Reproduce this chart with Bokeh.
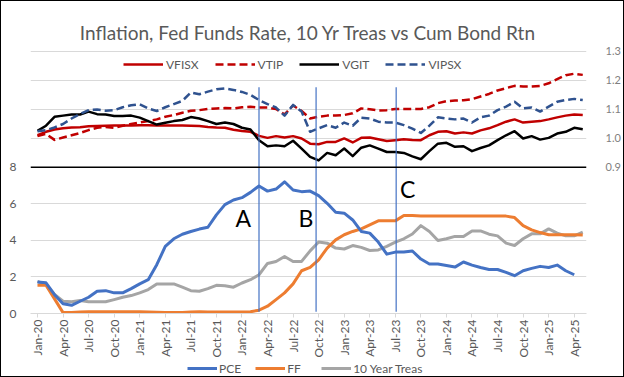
import math
from bokeh.plotting import figure
from bokeh.layouts import column
from bokeh.models import (Range1d, LinearAxis, FixedTicker, Grid, Span, Legend,
                          LegendItem, ColumnDataSource)
from bokeh.core.properties import value
from bokeh.embed import file_html
from bokeh.resources import INLINE

# ---------------- data ----------------
tick_months = list(range(0, 64, 3))
tick_labels = ["Jan-20", "Apr-20", "Jul-20", "Oct-20", "Jan-21", "Apr-21", "Jul-21", "Oct-21",
               "Jan-22", "Apr-22", "Jul-22", "Oct-22", "Jan-23", "Apr-23", "Jul-23", "Oct-23",
               "Jan-24", "Apr-24", "Jul-24", "Oct-24", "Jan-25", "Apr-25"]

# month index 0 = Jan-20
pce = [1.73, 1.68, 1.03, 0.53, 0.45, 0.67, 0.89, 1.22, 1.25, 1.13,
       1.13, 1.36, 1.62, 1.85, 2.67, 3.67, 4.09, 4.34, 4.49, 4.62,
       4.72, 5.40, 5.96, 6.21, 6.34, 6.63, 6.98, 6.70, 6.81, 7.21,
       6.76, 6.67, 6.70, 6.45, 6.03, 5.54, 5.49, 5.12, 4.49, 4.40,
       3.91, 3.25, 3.36, 3.36, 3.42, 2.98, 2.71, 2.71, 2.63, 2.54,
       2.82, 2.65, 2.52, 2.41, 2.41, 2.25, 2.07, 2.34, 2.47, 2.58,
       2.52, 2.65, 2.34, 2.12]
ff = [1.55, 1.55, 0.80, 0.05, 0.05, 0.08, 0.09, 0.09, 0.09, 0.09,
      0.09, 0.09, 0.09, 0.08, 0.07, 0.06, 0.06, 0.06, 0.08, 0.09,
      0.08, 0.08, 0.08, 0.08, 0.08, 0.10, 0.18, 0.40, 0.76, 1.13,
      1.62, 2.34, 2.52, 2.94, 3.58, 4.03, 4.31, 4.49, 4.63, 4.85,
      5.07, 5.07, 5.07, 5.36, 5.36, 5.33, 5.33, 5.33, 5.33, 5.33,
      5.33, 5.33, 5.33, 5.33, 5.33, 5.33, 5.25, 4.81, 4.58, 4.43,
      4.31, 4.31, 4.31, 4.31, 4.29]
treas10 = [1.76, 1.58, 1.04, 0.67, 0.64, 0.71, 0.64, 0.64, 0.64, 0.76,
           0.89, 0.98, 1.13, 1.31, 1.62, 1.62, 1.62, 1.44, 1.25, 1.22,
           1.36, 1.54, 1.52, 1.44, 1.67, 1.85, 2.12, 2.74, 2.85, 3.12,
           2.85, 2.85, 3.43, 3.91, 3.85, 3.58, 3.53, 3.72, 3.62, 3.45,
           3.48, 3.67, 3.91, 4.09, 4.35, 4.81, 4.49, 4.00, 4.09, 4.22,
           4.22, 4.52, 4.52, 4.34, 4.25, 3.85, 3.72, 4.09, 4.36, 4.36,
           4.63, 4.40, 4.25, 4.25, 4.45]

vfisx = [1.010, 1.022, 1.030, 1.034, 1.037, 1.038, 1.041, 1.042, 1.043, 1.044,
         1.044, 1.044, 1.045, 1.045, 1.044, 1.044, 1.044, 1.044, 1.043, 1.042,
         1.039, 1.037, 1.036, 1.029, 1.025, 1.022, 1.008, 1.001, 1.007, 1.002,
         1.007, 0.999, 0.981, 0.979, 0.987, 0.987, 0.999, 0.985, 1.001, 1.002,
         0.996, 0.990, 0.993, 0.996, 0.994, 0.993, 1.010, 1.022, 1.024, 1.016,
         1.020, 1.016, 1.027, 1.034, 1.045, 1.057, 1.065, 1.054, 1.057, 1.059,
         1.065, 1.072, 1.078, 1.082, 1.080]
vtip = [1.007, 1.015, 0.994, 1.002, 1.010, 1.018, 1.028, 1.036, 1.039, 1.036,
        1.043, 1.049, 1.054, 1.059, 1.065, 1.074, 1.080, 1.088, 1.095, 1.097,
        1.101, 1.103, 1.104, 1.103, 1.107, 1.109, 1.106, 1.106, 1.101, 1.082,
        1.113, 1.094, 1.068, 1.074, 1.078, 1.078, 1.080, 1.086, 1.103, 1.100,
        1.096, 1.097, 1.101, 1.101, 1.101, 1.101, 1.107, 1.121, 1.128, 1.130,
        1.131, 1.135, 1.144, 1.153, 1.165, 1.173, 1.181, 1.179, 1.179, 1.181,
        1.190, 1.204, 1.218, 1.223, 1.219]
vgit = [1.025, 1.043, 1.074, 1.078, 1.082, 1.082, 1.092, 1.083, 1.082, 1.077,
        1.077, 1.078, 1.071, 1.059, 1.047, 1.053, 1.059, 1.063, 1.073, 1.068,
        1.059, 1.049, 1.054, 1.049, 1.036, 1.030, 0.993, 0.972, 0.975, 0.972,
        0.991, 0.964, 0.935, 0.923, 0.949, 0.941, 0.964, 0.938, 0.967, 0.975,
        0.964, 0.952, 0.952, 0.949, 0.937, 0.927, 0.955, 0.981, 0.984, 0.970,
        0.972, 0.955, 0.966, 0.975, 0.993, 1.010, 1.024, 0.999, 1.007, 0.995,
        1.001, 1.016, 1.022, 1.036, 1.031]
vipsx = [1.024, 1.028, 1.037, 1.049, 1.068, 1.084, 1.097, 1.099, 1.095, 1.097,
         1.107, 1.114, 1.117, 1.103, 1.094, 1.107, 1.118, 1.129, 1.158, 1.152,
         1.161, 1.169, 1.172, 1.167, 1.160, 1.150, 1.132, 1.118, 1.106, 1.078,
         1.115, 1.092, 1.022, 1.034, 1.045, 1.036, 1.054, 1.043, 1.071, 1.068,
         1.057, 1.054, 1.054, 1.045, 1.033, 1.018, 1.043, 1.072, 1.068, 1.065,
         1.068, 1.054, 1.072, 1.078, 1.097, 1.109, 1.126, 1.103, 1.106, 1.092,
         1.109, 1.126, 1.132, 1.136, 1.132]

left_ticks = [0, 2, 4, 6, 8]
right_ticks = [0.9, 1.0, 1.1, 1.2, 1.3]
right_tick_labels = ["0.9", "1.0", "1.1", "1.2", "1.3"]

# event markers (month index) and their letters
event_x = [26.0, 32.7, 42.1]
event_bottom = [0.1, 0.1, 0.1]
event_top = [12.38, 12.38, 12.38]
letter_x = [24.15, 31.52, 43.45]
letter_y = [5.2, 5.2, 6.8]
letters = ["A", "B", "C"]

FONT = "Lato"
GREY_TXT = "#595959"

# ---------------- main figure ----------------
p = figure(width=622, height=359, output_backend="svg", toolbar_location=None,
           x_range=Range1d(-0.82, 64.44), y_range=Range1d(0, 14.395),
           min_border_left=29, min_border_right=35, min_border_top=49, min_border_bottom=45)
p.extra_y_ranges = {"right": Range1d(0.3931, 1.3034)}
p.outline_line_color = None
p.background_fill_color = "white"
p.border_fill_color = "white"

p.title.text = "Inflation, Fed Funds Rate, 10 Yr Treas vs Cum Bond Rtn"
p.title.align = "center"
p.title.text_font = FONT
p.title.text_font_size = "19px"
p.title.text_font_style = "normal"
p.title.text_color = GREY_TXT
p.title.standoff = 14

# grids
p.xgrid.visible = False
p.ygrid.ticker = FixedTicker(ticks=[2, 4, 6])
p.ygrid.grid_line_color = "#D9D9D9"
p.add_layout(Grid(dimension=1, y_range_name="right",
                  ticker=FixedTicker(ticks=[1.0, 1.1, 1.2, 1.3]),
                  grid_line_color="#D9D9D9"))
p.add_layout(Span(location=8, dimension="width", line_color="black", line_width=1.5))

# axes
xa = p.xaxis[0]
xa.ticker = FixedTicker(ticks=tick_months)
xa.major_label_overrides = {m: lab for m, lab in zip(tick_months, tick_labels)}
xa.major_label_orientation = math.pi / 2
xa.major_label_text_font = FONT
xa.major_label_text_font_size = "12px"
xa.major_label_text_color = GREY_TXT
xa.axis_line_color = "#D9D9D9"
xa.major_tick_line_color = "#D9D9D9"
xa.major_tick_in = 0
xa.major_tick_out = 4
xa.minor_tick_line_color = None
xa.major_label_standoff = 2

ya = p.yaxis[0]
ya.ticker = FixedTicker(ticks=left_ticks)
ya.axis_line_color = None
ya.major_tick_line_color = None
ya.minor_tick_line_color = None
ya.major_label_text_font = FONT
ya.major_label_text_font_size = "12px"
ya.major_label_text_color = GREY_TXT
ya.major_label_standoff = 8

ra = LinearAxis(y_range_name="right", ticker=FixedTicker(ticks=right_ticks))
ra.major_label_overrides = {t: s for t, s in zip(right_ticks, right_tick_labels)}
ra.axis_line_color = None
ra.major_tick_line_color = None
ra.minor_tick_line_color = None
ra.major_label_text_font = FONT
ra.major_label_text_font_size = "11px"
ra.major_label_text_color = "#7F7F7F"
ra.major_label_standoff = 13
p.add_layout(ra, "right")

# ---------------- lines ----------------
top_src = ColumnDataSource(dict(m=list(range(len(vfisx))), vfisx=vfisx, vtip=vtip,
                                vgit=vgit, vipsx=vipsx))
pce_src = ColumnDataSource(dict(m=list(range(len(pce))), pce=pce))
low_src = ColumnDataSource(dict(m=list(range(len(ff))), ff=ff, treas10=treas10))

STYLE = {
    "VFISX": dict(line_color="#C00000", line_width=2.5),
    "VTIP": dict(line_color="#C00000", line_width=2.5, line_dash="8 4"),
    "VGIT": dict(line_color="#000000", line_width=2.5),
    "VIPSX": dict(line_color="#2F528F", line_width=2.5, line_dash="8 4"),
    "PCE": dict(line_color="#4472C4", line_width=3),
    "FF": dict(line_color="#ED7D31", line_width=3),
    "10 Year Treas": dict(line_color="#A5A5A5", line_width=3),
}

kw_top = dict(source=top_src, y_range_name="right", line_join="round")
r_vfisx = p.line("m", "vfisx", **STYLE["VFISX"], **kw_top)
r_vtip = p.line("m", "vtip", **STYLE["VTIP"], **kw_top)
r_vgit = p.line("m", "vgit", **STYLE["VGIT"], **kw_top)
r_vipsx = p.line("m", "vipsx", **STYLE["VIPSX"], **kw_top)

p.line("m", "treas10", source=low_src, line_join="round", **STYLE["10 Year Treas"])
p.line("m", "ff", source=low_src, line_join="round", **STYLE["FF"])
p.line("m", "pce", source=pce_src, line_join="round", **STYLE["PCE"])

# event markers
p.segment(x0=event_x, y0=event_bottom, x1=event_x, y1=event_top,
          line_color="#4472C4", line_width=1.2)
p.text(x=letter_x, y=letter_y, text=letters, text_font=value(FONT), text_font_size="23px",
       text_align="center", text_baseline="middle", text_color="black")

leg_common = dict(orientation="horizontal", border_line_color=None, background_fill_alpha=0,
                  label_text_font=FONT, label_text_font_size="12px", label_text_color=GREY_TXT,
                  padding=0, margin=0)
top_leg = Legend(items=[LegendItem(label="VFISX", renderers=[r_vfisx]),
                        LegendItem(label="VTIP", renderers=[r_vtip]),
                        LegendItem(label="VGIT", renderers=[r_vgit]),
                        LegendItem(label="VIPSX", renderers=[r_vipsx])],
                 location=(93, 241), glyph_width=40, glyph_height=16, label_height=16,
                 label_standoff=3, spacing=16, **leg_common)
p.add_layout(top_leg)

# ---------------- bottom legend strip ----------------
# the series are re-drawn here only to feed the legend; the view range keeps them out of sight
q = figure(width=622, height=16, output_backend="svg", toolbar_location=None,
           x_range=Range1d(1000, 1001), y_range=Range1d(1000, 1001),
           x_axis_location=None, y_axis_location=None,
           min_border_left=0, min_border_right=0, min_border_top=0, min_border_bottom=0)
q.grid.visible = False
q.outline_line_color = None
q.border_fill_color = "white"
q_pce = q.line("m", "pce", source=pce_src, **STYLE["PCE"])
q_ff = q.line("m", "ff", source=low_src, **STYLE["FF"])
q_tr = q.line("m", "treas10", source=low_src, **STYLE["10 Year Treas"])
bot_leg = Legend(items=[LegendItem(label="PCE", renderers=[q_pce]),
                        LegendItem(label="FF", renderers=[q_ff]),
                        LegendItem(label="10 Year Treas", renderers=[q_tr])],
                 location=(157, 0), glyph_width=30, glyph_height=16, label_height=16,
                 label_standoff=2, spacing=14, **leg_common)
q.add_layout(bot_leg)

layout = column(p, q, spacing=0)
layout.styles = {"border": "1px solid #000000"}
open("out.html", "w").write(file_html(layout, INLINE))
